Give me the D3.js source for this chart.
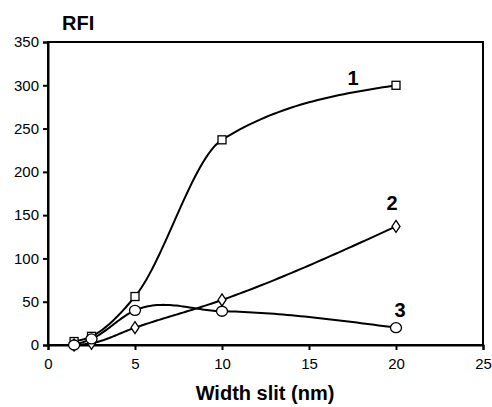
<!DOCTYPE html>
<html><head><meta charset="utf-8">
<script src="https://cdn.jsdelivr.net/npm/d3@7"></script>
<style>body{margin:0;background:#fff}svg{display:block}text{font-family:"Liberation Sans",Arial,sans-serif;fill:#000}</style>
</head><body>
<svg id="c" width="492" height="407"></svg>
<script>
const xValues = [1.5, 2.5, 5, 10, 20];
const series1 = [4, 10, 56, 237, 300];
const series2 = [0, 2, 20, 52, 137];
const series3 = [0, 7, 40, 39, 20];
const seriesLabels = ["1", "2", "3"];
const xTicks = [0, 5, 10, 15, 20, 25];
const yTicks = [0, 50, 100, 150, 200, 250, 300, 350];

const svg = d3.select("#c");
const x = d3.scaleLinear().domain([0, 25]).range([48, 483]);
const y = d3.scaleLinear().domain([0, 350]).range([345, 42]);

// smooth Hermite curve y(x) through the data points
function smooth(xs, ys) {
  const n = xs.length, h = [], s = [], t = new Array(n);
  for (let i = 0; i < n - 1; i++) { h.push(xs[i + 1] - xs[i]); s.push((ys[i + 1] - ys[i]) / h[i]); }
  for (let i = 1; i < n - 1; i++) {
    const p = (s[i - 1] * h[i] + s[i] * h[i - 1]) / (h[i - 1] + h[i]);
    if (s[i - 1] * s[i] > 0) {
      const lim = 2 * Math.min(Math.abs(s[i - 1]), Math.abs(s[i]));
      t[i] = Math.sign(p) * Math.min(Math.abs(p), lim);
    } else t[i] = p;
  }
  t[0] = (3 * s[0] - t[1]) / 2;
  t[n - 1] = (3 * s[n - 2] - t[n - 2]) / 2;
  const pts = [];
  for (let i = 0; i < n - 1; i++) {
    const steps = 40;
    for (let k = (i > 0 ? 1 : 0); k <= steps; k++) {
      const u = k / steps, u2 = u * u, u3 = u2 * u;
      const v = (2 * u3 - 3 * u2 + 1) * ys[i] + (u3 - 2 * u2 + u) * h[i] * t[i]
        + (-2 * u3 + 3 * u2) * ys[i + 1] + (u3 - u2) * h[i] * t[i + 1];
      pts.push([xs[i] + u * h[i], v]);
    }
  }
  return pts;
}

// frame
svg.append("rect").attr("x", x(0)).attr("y", y(350)).attr("width", x(25) - x(0)).attr("height", y(0) - y(350))
  .attr("fill", "none").attr("stroke", "#000").attr("stroke-width", 2);

const yAxis = svg.append("g").attr("transform", `translate(${x(0)},0)`)
  .call(d3.axisLeft(y).tickValues(yTicks).tickSize(5).tickPadding(4));
const xAxis = svg.append("g").attr("transform", `translate(0,${y(0)})`)
  .call(d3.axisBottom(x).tickValues(xTicks).tickSize(5).tickPadding(8));
[yAxis, xAxis].forEach(a => {
  a.select(".domain").attr("stroke", "#000").attr("stroke-width", 2);
  a.selectAll(".tick line").attr("stroke", "#000").attr("stroke-width", 2);
  a.selectAll(".tick text").attr("font-size", 15).attr("font-family", '"Liberation Sans",Arial,sans-serif').attr("fill", "#000");
});

const line = d3.line().x(d => x(d[0])).y(d => y(d[1]));
[series1, series2, series3].forEach(s => {
  svg.append("path").attr("d", line(smooth(xValues, s)))
    .attr("fill", "none").attr("stroke", "#000").attr("stroke-width", 2);
});

// markers
const g = svg.append("g").attr("fill", "#fff").attr("stroke", "#000").attr("stroke-width", 1.3);
xValues.forEach((v, i) => {
  g.append("rect").attr("x", x(v) - 4).attr("y", y(series1[i]) - 4).attr("width", 8).attr("height", 8);
});
xValues.forEach((v, i) => {
  const cx = x(v), cy = y(series2[i]);
  g.append("path").attr("d", `M${cx},${cy - 6}L${cx + 4},${cy}L${cx},${cy + 6}L${cx - 4},${cy}Z`);
});
xValues.forEach((v, i) => {
  g.append("ellipse").attr("cx", x(v)).attr("cy", y(series3[i])).attr("rx", 5.5).attr("ry", 5);
});

svg.append("text").attr("x", 353).attr("y", 85).attr("text-anchor", "middle").attr("font-size", 20).attr("font-weight", "bold").text(seriesLabels[0]);
svg.append("text").attr("x", 392).attr("y", 210).attr("text-anchor", "middle").attr("font-size", 20).attr("font-weight", "bold").text(seriesLabels[1]);
svg.append("text").attr("x", 400).attr("y", 317).attr("text-anchor", "middle").attr("font-size", 20).attr("font-weight", "bold").text(seriesLabels[2]);

svg.append("text").attr("x", 62).attr("y", 30).attr("font-size", 20).attr("font-weight", "bold").text("RFI");
svg.append("text").attr("x", 265).attr("y", 400).attr("text-anchor", "middle").attr("font-size", 20).attr("font-weight", "bold").text("Width slit (nm)");
</script>
</body></html>
